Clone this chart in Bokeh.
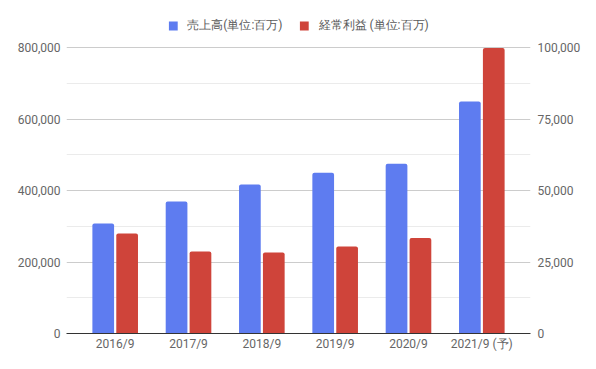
from bokeh.plotting import figure
from bokeh.models import (FactorRange, Range1d, LinearAxis, FixedTicker, NumeralTickFormatter,
                          Legend, LegendItem, ColumnDataSource)
from bokeh.transform import dodge
from bokeh.embed import file_html
from bokeh.resources import INLINE

categories = ["2016/9", "2017/9", "2018/9", "2019/9", "2020/9", "2021/9 (予)"]
sales = [308000, 369000, 417000, 450000, 475000, 649000]
profit = [35000, 28700, 28300, 30400, 33400, 99800]
left_ticks = [0, 200000, 400000, 600000, 800000]
left_minor = [100000, 300000, 500000, 700000]
right_ticks = [0, 25000, 50000, 75000, 100000]
series_names = ["売上高(単位:百万)", "経常利益 (単位:百万)"]

BLUE = "#5e7cf0"
RED = "#cf443a"
FONT = "Roboto"

# layout: the frame spans the legend band too; the 800,000 / 100,000 line sits 47px from the top
W, H = 596, 369
BOTTOM = 36
FRAME_H = H - BOTTOM
CHART_H = 286  # pixels from 0 to the top tick
left_max = left_ticks[-1] * FRAME_H / CHART_H
right_max = right_ticks[-1] * FRAME_H / CHART_H

src = ColumnDataSource(dict(cat=categories, sales=sales, profit=profit))

p = figure(x_range=FactorRange(factors=categories, range_padding=0.164, range_padding_units="absolute"),
           y_range=Range1d(0, left_max),
           width=W, height=H, output_backend="svg", toolbar_location=None,
           min_border_left=66, min_border_right=66, min_border_top=0, min_border_bottom=BOTTOM)
p.extra_y_ranges = {"profit": Range1d(0, right_max)}
p.outline_line_color = None

r1 = p.vbar(x=dodge("cat", -0.163, range=p.x_range), top="sales", width=0.296, source=src,
            fill_color=BLUE, line_color=None, border_radius=(2, 2, 0, 0))
r2 = p.vbar(x=dodge("cat", 0.163, range=p.x_range), top="profit", width=0.296, source=src,
            fill_color=RED, line_color=None, border_radius=(2, 2, 0, 0), y_range_name="profit")

# grids
p.xgrid.grid_line_color = None
p.ygrid.ticker = FixedTicker(ticks=left_ticks, minor_ticks=left_minor)
p.ygrid.grid_line_color = "#cccccc"
p.ygrid.minor_grid_line_color = "#ebebeb"

# left axis
ya = p.yaxis[0]
ya.ticker = FixedTicker(ticks=left_ticks)
ya.formatter = NumeralTickFormatter(format="0,0")
ya.axis_line_color = None
ya.major_tick_line_color = None
ya.minor_tick_line_color = None
ya.major_tick_out = 0
ya.minor_tick_out = 0
ya.major_label_standoff = 6
ya.major_label_text_font = FONT
ya.major_label_text_font_size = "12px"
ya.major_label_text_color = "#666666"

# right axis
ra = LinearAxis(y_range_name="profit", ticker=FixedTicker(ticks=right_ticks),
                formatter=NumeralTickFormatter(format="0,0"))
ra.axis_line_color = None
ra.major_tick_line_color = None
ra.minor_tick_line_color = None
ra.major_tick_out = 0
ra.minor_tick_out = 0
ra.major_label_standoff = 7
ra.major_label_text_font = FONT
ra.major_label_text_font_size = "12px"
ra.major_label_text_color = "#666666"
p.add_layout(ra, "right")

# x axis
xa = p.xaxis[0]
xa.axis_line_color = "#333333"
xa.axis_line_width = 1
xa.major_tick_line_color = None
xa.minor_tick_line_color = None
xa.major_tick_out = 0
xa.minor_tick_out = 0
xa.major_label_standoff = 3
xa.major_label_text_font = FONT
xa.major_label_text_font_size = "12px"
xa.major_label_text_color = "#666666"

legend = Legend(items=[LegendItem(label=series_names[0], renderers=[r1]),
                       LegendItem(label=series_names[1], renderers=[r2])],
                orientation="horizontal", location="top_center",
                glyph_width=11, glyph_height=11, label_standoff=9, spacing=16,
                padding=0, margin=17, border_line_color=None, background_fill_alpha=0,
                label_text_font=FONT, label_text_font_size="12px", label_text_color="#5a5a5a",
                label_height=14)
p.add_layout(legend, "center")

open("out.html", "w").write(file_html(p, INLINE))
